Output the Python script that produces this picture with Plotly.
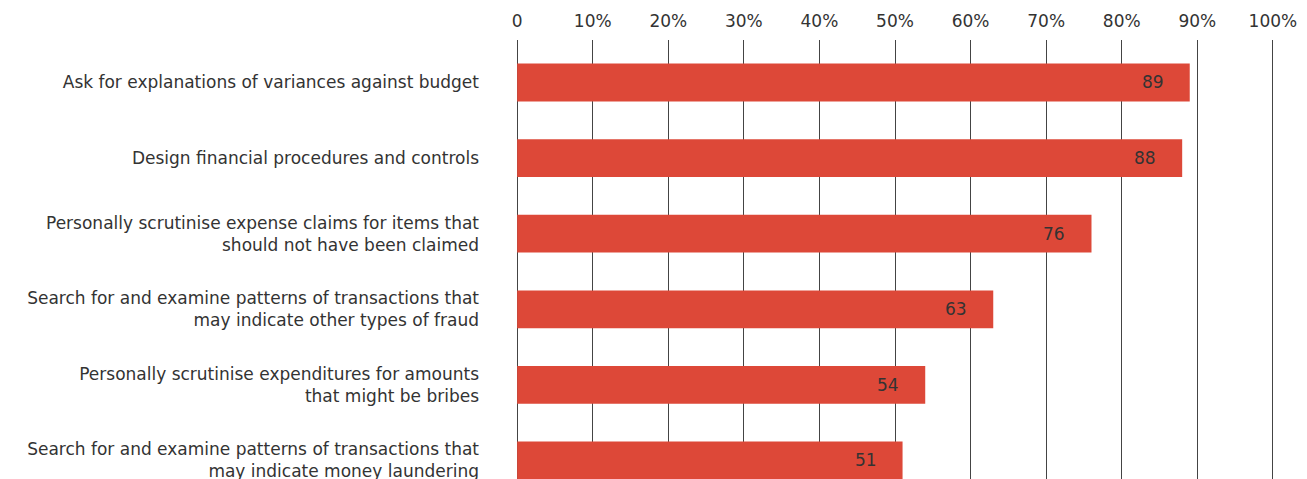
import plotly.graph_objects as go

categories = [
    "Ask for explanations of variances against budget",
    "Design financial procedures and controls",
    "Personally scrutinise expense claims for items that<br>should not have been claimed",
    "Search for and examine patterns of transactions that<br>may indicate other types of fraud",
    "Personally scrutinise expenditures for amounts<br>that might be bribes",
    "Search for and examine patterns of transactions that<br>may indicate money laundering",
]
values = [89, 88, 76, 63, 54, 51]
tick_vals = [0, 10, 20, 30, 40, 50, 60, 70, 80, 90, 100]
tick_text = ["0", "10%", "20%", "30%", "40%", "50%", "60%", "70%", "80%", "90%", "100%"]

FONT = "DejaVu Sans"
TXT = "#333333"
BAR = "#DD4838"

fig = go.Figure()
fig.add_trace(go.Bar(
    x=values, y=categories, orientation="h",
    marker=dict(color=BAR, line=dict(width=0)),
    width=0.5, hoverinfo="skip",
))

for c, v in zip(categories, values):
    fig.add_annotation(x=v, y=c, text=str(v), showarrow=False,
                       xanchor="right", xshift=-24,
                       font=dict(family=FONT, size=17, color=TXT))

# page body has an 8px margin, so the figure is sized/offset to compensate
fig.update_layout(
    width=1299, height=471,
    margin=dict(l=508, r=33, t=32, b=0),
    paper_bgcolor="white", plot_bgcolor="white",
    showlegend=False,
    font=dict(family=FONT, size=17, color=TXT),
    xaxis=dict(side="top", range=[-0.15, 100.15], tickvals=tick_vals, ticktext=tick_text,
               showgrid=True, gridcolor="#444444", gridwidth=1, automargin=False,
               zeroline=False, showline=False, ticks="", ticklabelstandoff=9,
               tickfont=dict(family=FONT, size=17, color=TXT), fixedrange=True),
    yaxis=dict(range=[5.245, -0.562], showgrid=False, showline=False, zeroline=False,
               ticks="", ticklabelstandoff=36, automargin=False,
               tickfont=dict(family=FONT, size=17, color=TXT), fixedrange=True),
)

fig.write_html("out.html")
